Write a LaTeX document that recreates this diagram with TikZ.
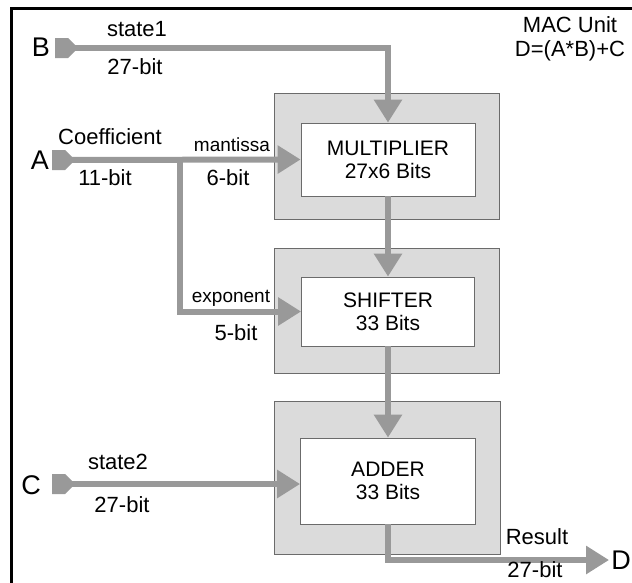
\documentclass[tikz,border=0pt]{standalone}
\usepackage{fontspec}
\setmainfont{Liberation Sans}
\usetikzlibrary{arrows.meta,shapes.symbols,positioning}
\definecolor{busgray}{gray}{0.6}
\definecolor{boxgray}{gray}{0.86}
\definecolor{edgegray}{gray}{0.42}
\tikzset{
  bus/.style={
    line width=6pt,
    draw=busgray,
    -{Triangle[length=23pt,width=27pt]}
  },
  outbox/.style={
    shape = rectangle,
    draw = edgegray,
    fill = boxgray,
    line width=0.8pt
  },
  inbox/.style={
    shape = rectangle,
    draw = edgegray,
    fill = white,
    line width=0.8pt,
    align = center,
    font = \fontsize{21}{23}\selectfont
  },
  porttab/.style={
    shape = signal,
    signal to = east,
    fill = busgray,
    inner sep = 0pt,
    minimum width = 23pt,
    minimum height = 20pt,
    anchor = west
  },
  lbl/.style={
    font = \fontsize{22}{24}\selectfont,
    inner sep=1pt
  },
  small/.style={
    font = \fontsize{19}{21}\selectfont,
    inner sep=2pt
  },
  port/.style={
    font = \fontsize{27}{29}\selectfont,
    inner sep=2pt
  }
}
\begin{document}
\begin{tikzpicture}[x=1pt,y=-1pt]
    \useasboundingbox (0,0) rectangle (632,582);
    \draw[line width=3pt] (11.5,8.5) rectangle (650,600);
    \def\bx{387}
    % blocks
    \node[outbox,minimum width=225pt,minimum height=126pt] (mulO) at (\bx,156) {};
    \node[outbox,minimum width=225pt,minimum height=125pt] (shfO) at (\bx,310.5) {};
    \node[outbox,minimum width=226pt,minimum height=153pt] (addO) at (\bx,477.5) {};
    \node[inbox,minimum width=174pt,minimum height=73pt] (mulI) at (388,159.5) {MULTIPLIER\\27x6 Bits};
    \node[inbox,minimum width=173pt,minimum height=69pt] (shfI) at (388,311.5) {SHIFTER\\33 Bits};
    \node[inbox,minimum width=175pt,minimum height=86pt] (addI) at (388,481) {ADDER\\33 Bits};
    % ports
    \node[port] (inB) at (41,47) {B};
    \node[port] (inA) at (40,160) {A};
    \node[port] (inC) at (31,485) {C};
    \node[port] (outD) at (621,560) {D};
    \node[porttab] (tabB) at (55,48) {};
    \node[porttab] (tabA) at (52,160) {};
    \node[porttab] (tabC) at (52,484) {};
    \coordinate (br) at (180,160);
    % buses
    \draw[bus] (tabB.center) -| (mulI.north);
    \draw[bus] (tabA.center) -- (mulI.west);
    \draw[bus] (br) |- (shfI.west);
    \draw[bus] (mulI.south) -- (shfI.north);
    \draw[bus] (shfI.south) -- (addI.north);
    \draw[bus] (tabC.center) -- (addI.west |- tabC.center);
    \draw[bus] (addI.south) |- (outD.west);
    % labels
    \node[lbl] at (137,29) {state1};
    \node[lbl] at (135,67) {27-bit};
    \node[lbl] at (110,137) {Coefficient};
    \node[lbl] at (105,178) {11-bit};
    \node[small] at (232,145) {mantissa};
    \node[lbl] at (228,178) {6-bit};
    \node[small] at (231,298) {exponent};
    \node[lbl] at (236,333) {5-bit};
    \node[lbl] at (118,462) {state2};
    \node[lbl] at (122,505) {27-bit};
    \node[lbl] at (537,537) {Result};
    \node[lbl] at (535,570) {27-bit};
    \node[lbl,align=center] at (570,39) {MAC Unit\\D=(A*B)+C};
\end{tikzpicture}
\end{document}
